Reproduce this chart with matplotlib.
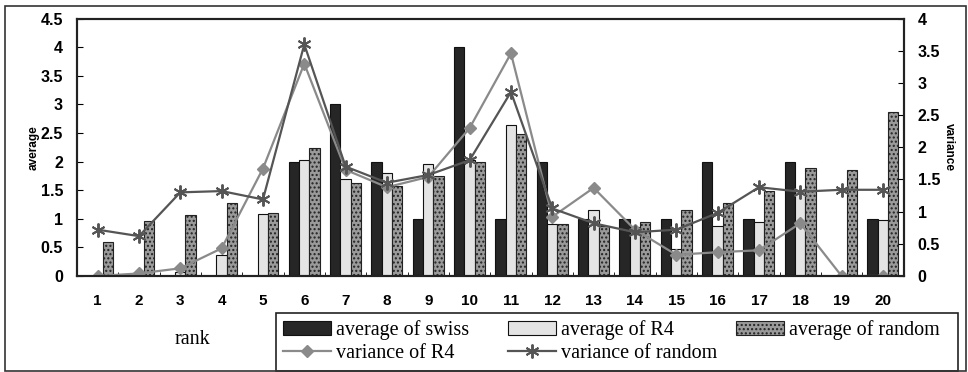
import numpy as np
import matplotlib
matplotlib.use('Agg')
import matplotlib.pyplot as plt
from matplotlib.patches import Rectangle

# values
ranks = list(range(1, 21))
avg_swiss = [0, 0, 0, 0, 0, 2, 3, 2, 1, 4, 1, 2, 1, 1, 1, 2, 1, 2, 0, 1]
avg_r4 = [0, 0.02, 0.07, 0.36, 1.08, 2.03, 1.7, 1.8, 1.95, 2.02, 2.64, 0.91, 1.16, 0.85, 0.48, 0.88, 0.95, 1.5, 0, 0.98]
avg_random = [0.6, 0.96, 1.06, 1.27, 1.11, 2.23, 1.62, 1.57, 1.75, 2.0, 2.48, 0.91, 0.88, 0.95, 1.15, 1.27, 1.48, 1.88, 1.85, 2.87]
var_r4 = [0, 0.04, 0.12, 0.43, 1.67, 3.3, 1.65, 1.38, 1.54, 2.3, 3.46, 0.92, 1.37, 0.72, 0.33, 0.37, 0.4, 0.82, 0, 0]
var_random = [0.72, 0.62, 1.3, 1.32, 1.19, 3.6, 1.7, 1.45, 1.57, 1.8, 2.86, 1.05, 0.82, 0.68, 0.72, 0.98, 1.38, 1.31, 1.34, 1.34]

plt.rcParams['font.family'] = ['Liberation Sans', 'DejaVu Sans']
plt.rcParams['hatch.color'] = '#777777'

fig = plt.figure(figsize=(9.68, 3.72), dpi=100)
ax = fig.add_axes([0.0795, 0.258, 0.854, 0.692])
ax2 = ax.twinx()

x = np.array(ranks)
w = 0.25
b1 = ax.bar(x - w, avg_swiss, w, color='#262626', edgecolor='#111111', linewidth=0.8)
b2 = ax.bar(x, avg_r4, w, color='#e4e4e4', edgecolor='#111111', linewidth=0.8)
b3 = ax.bar(x + w, avg_random, w, color='#9a9a9a', edgecolor='#222222', linewidth=0.8, hatch='....')

l1, = ax2.plot(x, var_r4, color='#8a8a8a', marker='D', markersize=6, linewidth=1.6)
l2, = ax2.plot(x, var_random, color='#555555', marker=(6, 2, 0), markersize=10,
               markeredgewidth=1.4, linewidth=1.6)

ax.set_xlim(0.5, 20.5)
ax.set_ylim(0, 4.5)
ax2.set_ylim(0, 4)
ax.set_yticks(np.arange(0, 4.51, 0.5))
ax.set_yticklabels(['0', '0.5', '1', '1.5', '2', '2.5', '3', '3.5', '4', '4.5'])
ax2.set_yticks(np.arange(0, 4.01, 0.5))
ax2.set_yticklabels(['0', '0.5', '1', '1.5', '2', '2.5', '3', '3.5', '4'])
ax.set_xticks(x)
ax.set_xticks(np.arange(1.5, 20, 1), minor=True)
ax.tick_params(axis='x', which='major', length=0, pad=13, labelsize=11)
ax.tick_params(axis='x', which='minor', length=3, direction='in')
ax.tick_params(axis='y', length=4, direction='in', pad=10, labelsize=11.5)
ax2.tick_params(axis='y', length=4, direction='in', pad=10, labelsize=11.5)
for lab in ax.get_xticklabels() + ax.get_yticklabels() + ax2.get_yticklabels():
    lab.set_fontweight('bold')

for a in (ax, ax2):
    for s in a.spines.values():
        s.set_linewidth(1.5)
        s.set_color('#222222')

ax.set_ylabel('average', fontsize=8.5, fontweight='bold', labelpad=1)
ax2.set_ylabel('variance', fontsize=8.5, fontweight='bold', rotation=270, labelpad=11)

fig.text(192 / 968, 1 - 340 / 372, 'rank', fontsize=14.5, family='Liberation Serif',
         ha='center', va='center')

# legend: three columns of equal width inside one frame
serif = {'family': 'Liberation Serif', 'size': 14.5}
columns = [([b1, l1], ['average of swiss', 'variance of R4'], 283),
           ([b2, l2], ['average of R4', 'variance of random'], 508),
           ([b3], ['average of random'], 736)]
for handles, labels, left in columns:
    fig.legend(handles, labels, loc='upper left', bbox_to_anchor=(left / 968, 1 - 320 / 372),
               prop=serif, frameon=False, handlelength=2.4, handletextpad=0.25,
               labelspacing=0.2, borderpad=0, borderaxespad=0)
fig.patches.append(Rectangle((276 / 968, 1 - 371 / 372), (958 - 276) / 968, (371 - 313) / 372,
                             transform=fig.transFigure, fill=False,
                             edgecolor='#222222', linewidth=1.2))

# outer frame of the figure
fig.patches.append(Rectangle((5 / 968, 1 / 372), 961 / 968, 365 / 372, transform=fig.transFigure,
                             fill=False, edgecolor='#333333', linewidth=1.2))

fig.savefig('out.png', dpi=100)
